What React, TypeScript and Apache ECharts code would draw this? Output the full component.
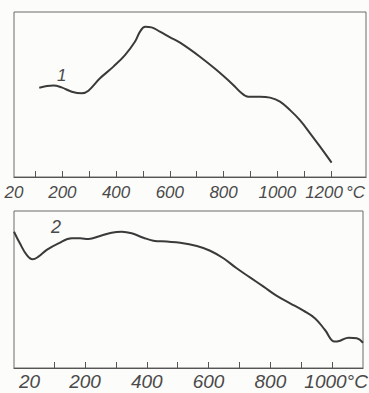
import React, { useEffect, useRef } from "react";
import * as echarts from "echarts";

// Curve 1 (upper panel): temperature °C, relative value
const temp1 = [114, 166, 197, 235, 272, 297, 340, 390, 433, 470, 489, 508, 532, 563, 601, 638, 712, 774, 836, 861, 892, 936, 973, 1010, 1047, 1084, 1122, 1159, 1202];
const val1 = [54.1, 55.4, 54.3, 51.7, 50.7, 52.3, 59.8, 66.9, 73.9, 82.0, 88.1, 91.1, 90.7, 88.1, 84.6, 81.4, 72.9, 64.8, 55.8, 51.7, 48.7, 48.7, 48.1, 45.7, 40.6, 34.5, 26.5, 18.4, 8.7];

// Curve 2 (lower panel)
const temp2 = [-30, -11, 11, 30, 49, 76, 114, 157, 184, 211, 249, 286, 319, 351, 389, 421, 465, 508, 562, 605, 648, 691, 734, 778, 821, 864, 907, 945, 977, 1008, 1026, 1053, 1080, 1100];
const val2 = [86.8, 79.4, 72.0, 69.2, 70.9, 75.2, 79.4, 82.6, 82.6, 82.2, 84.1, 86.2, 86.8, 85.8, 83.0, 81.1, 80.5, 79.8, 77.7, 74.7, 69.9, 63.5, 57.7, 51.8, 45.9, 41.2, 36.5, 31.6, 24.2, 16.8, 17.4, 19.3, 18.9, 16.1];

const ticks1 = [100, 200, 300, 400, 500, 600, 700, 800, 900, 1000, 1100, 1200];
const labels1 = [20, 200, 400, 600, 800, 1000, 1200];
const ticks2 = [100, 200, 300, 400, 500, 600, 700, 800, 900, 1000];
const labels2 = [20, 200, 400, 600, 800, 1000];

const FONT = "'Liberation Sans', Arial, sans-serif";
const INK = "#3a3a3a";
const FRAME = "#6a6a6a";
const TXT = "#4a4a4a";

export default function App() {
  const ref = useRef<HTMLDivElement>(null);
  useEffect(() => {
    if (!ref.current) return;
    const chart = echarts.init(ref.current, null, { renderer: "svg" });
    const lbl = (size: number, last: number, margin: number, gap: number) => ({
      show: true,
      fontFamily: FONT,
      fontStyle: "italic",
      fontSize: size,
      color: TXT,
      margin,
      hideOverlap: false,
      formatter: (v: number) => (v === last ? `{pad|}{n|${v}}{u|°C}` : `${v}`),
      rich: {
        pad: { width: 8 },
        n: { fontFamily: FONT, fontStyle: "italic", fontSize: size, color: TXT },
        u: { fontFamily: FONT, fontStyle: "italic", fontSize: size, color: TXT, padding: [0, 0, 0, gap] },
      },
    });
    chart.setOption({
      animation: false,
      backgroundColor: "#fcfcfa",
      grid: [
        { left: 14, top: 12, width: 352, height: 165, show: true, borderColor: FRAME, borderWidth: 1, backgroundColor: "transparent", outerBoundsMode: "none", containLabel: false },
        { left: 14, top: 211, width: 349, height: 157, show: true, borderColor: FRAME, borderWidth: 1, backgroundColor: "transparent", outerBoundsMode: "none", containLabel: false },
      ],
      xAxis: [
        {
          type: "value", gridIndex: 0, min: 20, max: 1330,
          splitLine: { show: false },
          axisLine: { show: true, lineStyle: { color: "#555", width: 1.2 } },
          axisTick: { show: true, inside: true, length: 6, customValues: ticks1, lineStyle: { color: "#555" } },
          axisLabel: { ...lbl(17, 1200, 7, 3), customValues: labels1 },
        },
        {
          type: "value", gridIndex: 1, min: -30, max: 1100,
          splitLine: { show: false },
          axisLine: { show: true, lineStyle: { color: "#555", width: 1.2 } },
          axisTick: { show: true, inside: true, length: 6, customValues: ticks2, lineStyle: { color: "#555" } },
          axisLabel: { ...lbl(19, 1000, 4, 0), customValues: labels2 },
        },
      ],
      yAxis: [
        { type: "value", gridIndex: 0, min: 0, max: 100, show: false },
        { type: "value", gridIndex: 1, min: 0, max: 100, show: false },
      ],
      series: [
        {
          type: "line", xAxisIndex: 0, yAxisIndex: 0, smooth: 0.4, symbol: "none",
          lineStyle: { color: INK, width: 2 },
          data: temp1.map((t, i) => [t, val1[i]]),
        },
        {
          type: "line", xAxisIndex: 1, yAxisIndex: 1, smooth: 0.4, symbol: "none",
          lineStyle: { color: INK, width: 2 },
          data: temp2.map((t, i) => [t, val2[i]]),
        },
      ],
      graphic: [
        { type: "text", left: 57, top: 67, style: { text: "1", fontFamily: FONT, fontStyle: "italic", fontSize: 17, fill: TXT } },
        { type: "text", left: 51, top: 218, style: { text: "2", fontFamily: FONT, fontStyle: "italic", fontSize: 18, fill: TXT } },
      ],
    });
    return () => chart.dispose();
  }, []);
  return <div ref={ref} style={{ position: "fixed", left: 0, top: 0, width: 369, height: 393 }} />;
}
